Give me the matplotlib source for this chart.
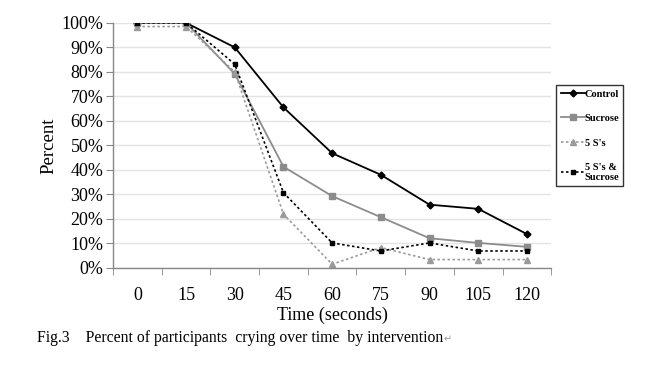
import matplotlib
matplotlib.use("Agg")
import matplotlib.pyplot as plt
from matplotlib.ticker import FuncFormatter, FixedLocator

times = [0, 15, 30, 45, 60, 75, 90, 105, 120]
control = [100, 100, 90, 65.5, 46.8, 38, 25.8, 24.1, 13.8]
sucrose = [100, 100, 79.2, 41.3, 29.3, 20.7, 12.1, 10.2, 8.6]
five_s = [98.5, 98.5, 80, 21.9, 1.5, 8.3, 3.4, 3.4, 3.4]
five_s_suc = [100, 100, 83.1, 30.7, 10.2, 6.9, 10.2, 6.9, 6.9]
labels = ["Control", "Sucrose", "5 S's", "5 S's &\nSucrose"]

plt.rcParams['font.family'] = ['Liberation Serif', 'DejaVu Serif']

fig = plt.figure(figsize=(6.61, 3.69), dpi=100)
ax = fig.add_axes([0.171, 0.274, 0.663, 0.664])

h1, = ax.plot(times, control, color='black', lw=1.3, marker='D', ms=3.5, label=labels[0])
h2, = ax.plot(times, sucrose, color='#8c8c8c', lw=1.3, marker='s', ms=4.5, label=labels[1])
h3, = ax.plot(times, five_s, color='#9a9a9a', lw=1.2, ls=(0, (1.5, 1.5)), marker='^', ms=4.5, label=labels[2])
h4, = ax.plot(times, five_s_suc, color='black', lw=1.2, ls=(0, (1.5, 1.5)), marker='s', ms=2.5, label=labels[3])

ax.set_xlim(-7.5, 127.5)
ax.set_ylim(0, 100)
ax.set_yticks(range(0, 101, 10))
ax.yaxis.set_major_formatter(FuncFormatter(lambda v, p: f"{int(v)}%"))
ax.set_xticks(times)
ax.set_xticklabels([str(t) for t in times])
ax.xaxis.set_minor_locator(FixedLocator([t - 7.5 for t in times] + [127.5]))
ax.tick_params(axis='x', which='major', length=0, pad=14, labelsize=13)
ax.tick_params(axis='x', which='minor', length=5, direction='out', color='#888888')
ax.tick_params(axis='y', length=5, direction='out', color='#888888', labelsize=13, pad=2)

ax.grid(axis='y', color='#e3e3e3', lw=1)
ax.set_axisbelow(True)
for s in ['top', 'right']:
    ax.spines[s].set_visible(False)
for s in ['left', 'bottom']:
    ax.spines[s].set_color('#888888')
    ax.spines[s].set_linewidth(1)

ax.set_xlabel("Time (seconds)", fontsize=13, labelpad=1.5)
ax.set_ylabel("Percent", fontsize=13.5, labelpad=3)

leg = fig.legend(handles=[h1, h2, h3, h4], loc='upper left', bbox_to_anchor=(0.834, 0.783),
                 frameon=True, fancybox=False, edgecolor='black',
                 handlelength=2.3, handletextpad=0.0, labelspacing=1.45, borderpad=0.4,
                 prop={'weight': 'bold', 'size': 7.5})
leg.get_frame().set_linewidth(1.0)

fig.text(0.056, 0.072, "Fig.3    Percent of participants  crying over time  by intervention", fontsize=11.3)
fig.text(0.671, 0.072, "\u21b5", fontsize=7, color='#999999', family='DejaVu Sans')

fig.savefig("out.png", dpi=100, facecolor='white')
